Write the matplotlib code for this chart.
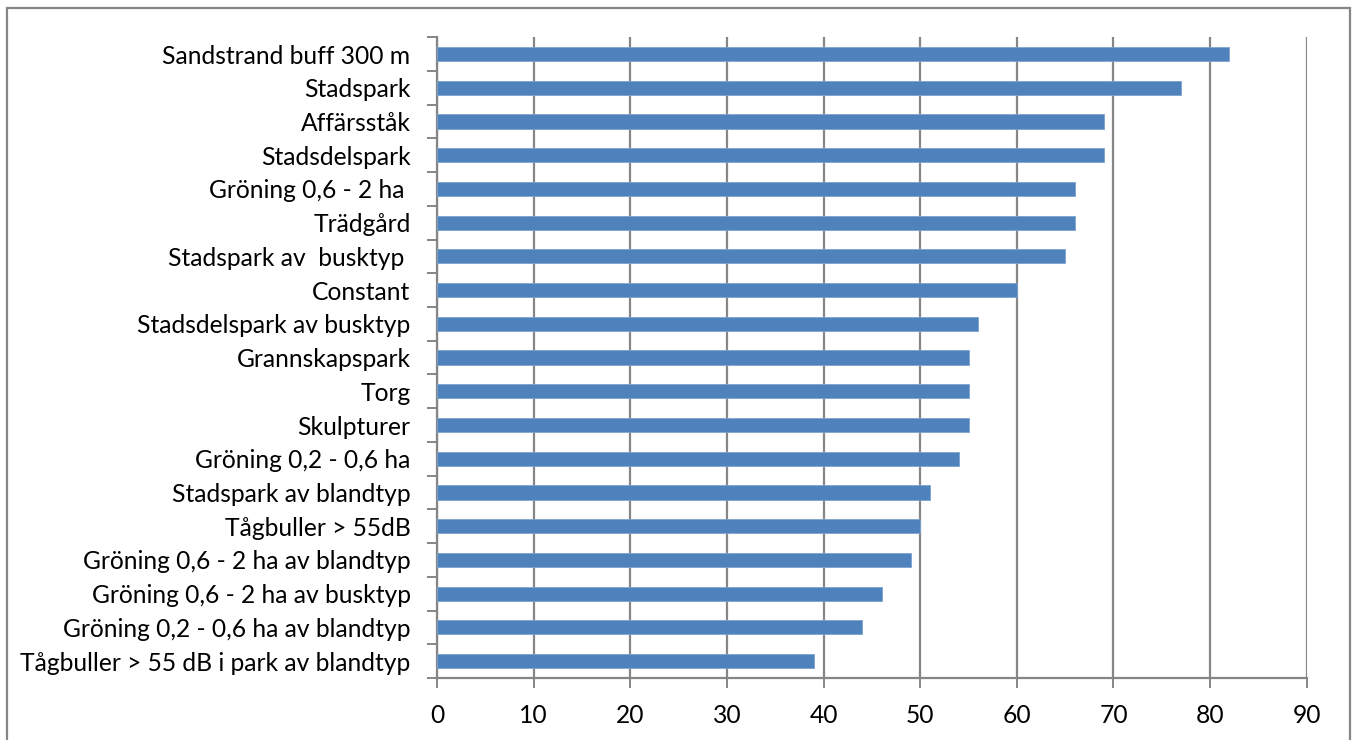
import numpy as np
import matplotlib.pyplot as plt
from matplotlib.patches import Rectangle

# data (top to bottom as shown)
kategorier = ['Sandstrand buff 300 m', 'Stadspark', 'Affärsståk', 'Stadsdelspark',
              'Gröning 0,6 - 2 ha ', 'Trädgård', 'Stadspark av  busktyp ', 'Constant',
              'Stadsdelspark av busktyp', 'Grannskapspark', 'Torg', 'Skulpturer',
              'Gröning 0,2 - 0,6 ha', 'Stadspark av blandtyp', 'Tågbuller > 55dB',
              'Gröning 0,6 - 2 ha av blandtyp', 'Gröning 0,6 - 2 ha av busktyp',
              'Gröning 0,2 - 0,6 ha av blandtyp', 'Tågbuller > 55 dB i park av blandtyp']
varden = [82, 77, 69, 69, 66, 66, 65, 60, 56, 55, 55, 55, 54, 51, 50, 49, 46, 44, 39]
x_ticks = [0, 10, 20, 30, 40, 50, 60, 70, 80, 90]

plt.rcParams['font.family'] = ['Lato', 'DejaVu Sans']
grid_color = '#868686'

fig = plt.figure(figsize=(13.57, 7.40), dpi=100)
ax = fig.add_axes([0.322, 0.0838, 0.641, 0.866])

y = np.arange(len(kategorier))
ax.barh(y, varden, height=0.42, color='#4f81bd', edgecolor='#7ea3d0', linewidth=0.6, zorder=3)

ax.set_xlim(0, 90)
ax.set_ylim(len(kategorier) - 0.5, -0.5)
ax.set_xticks(x_ticks)
ax.set_yticks(y)
ax.set_yticklabels(kategorier)
ax.set_yticks(np.arange(-0.5, len(kategorier), 1), minor=True)

ax.grid(axis='x', color=grid_color, linewidth=1.6, zorder=0)
for s in ['top', 'right']:
    ax.spines[s].set_visible(False)
for s in ['left', 'bottom']:
    ax.spines[s].set_color(grid_color)
    ax.spines[s].set_linewidth(1.6)

ax.tick_params(axis='y', which='major', length=0, labelsize=17.7, pad=19)
ax.tick_params(axis='y', which='minor', length=7, width=1.4, color=grid_color)
ax.tick_params(axis='x', length=7, width=1.4, color=grid_color, labelsize=17.7, pad=12)

# outer frame
fig.patches.append(Rectangle((7 / 1357, -0.01), 1343 / 1357, 1 - 8 / 740 + 0.01,
                             transform=fig.transFigure, fill=False,
                             edgecolor=grid_color, linewidth=1.6))

plt.savefig('out.png', dpi=100)
